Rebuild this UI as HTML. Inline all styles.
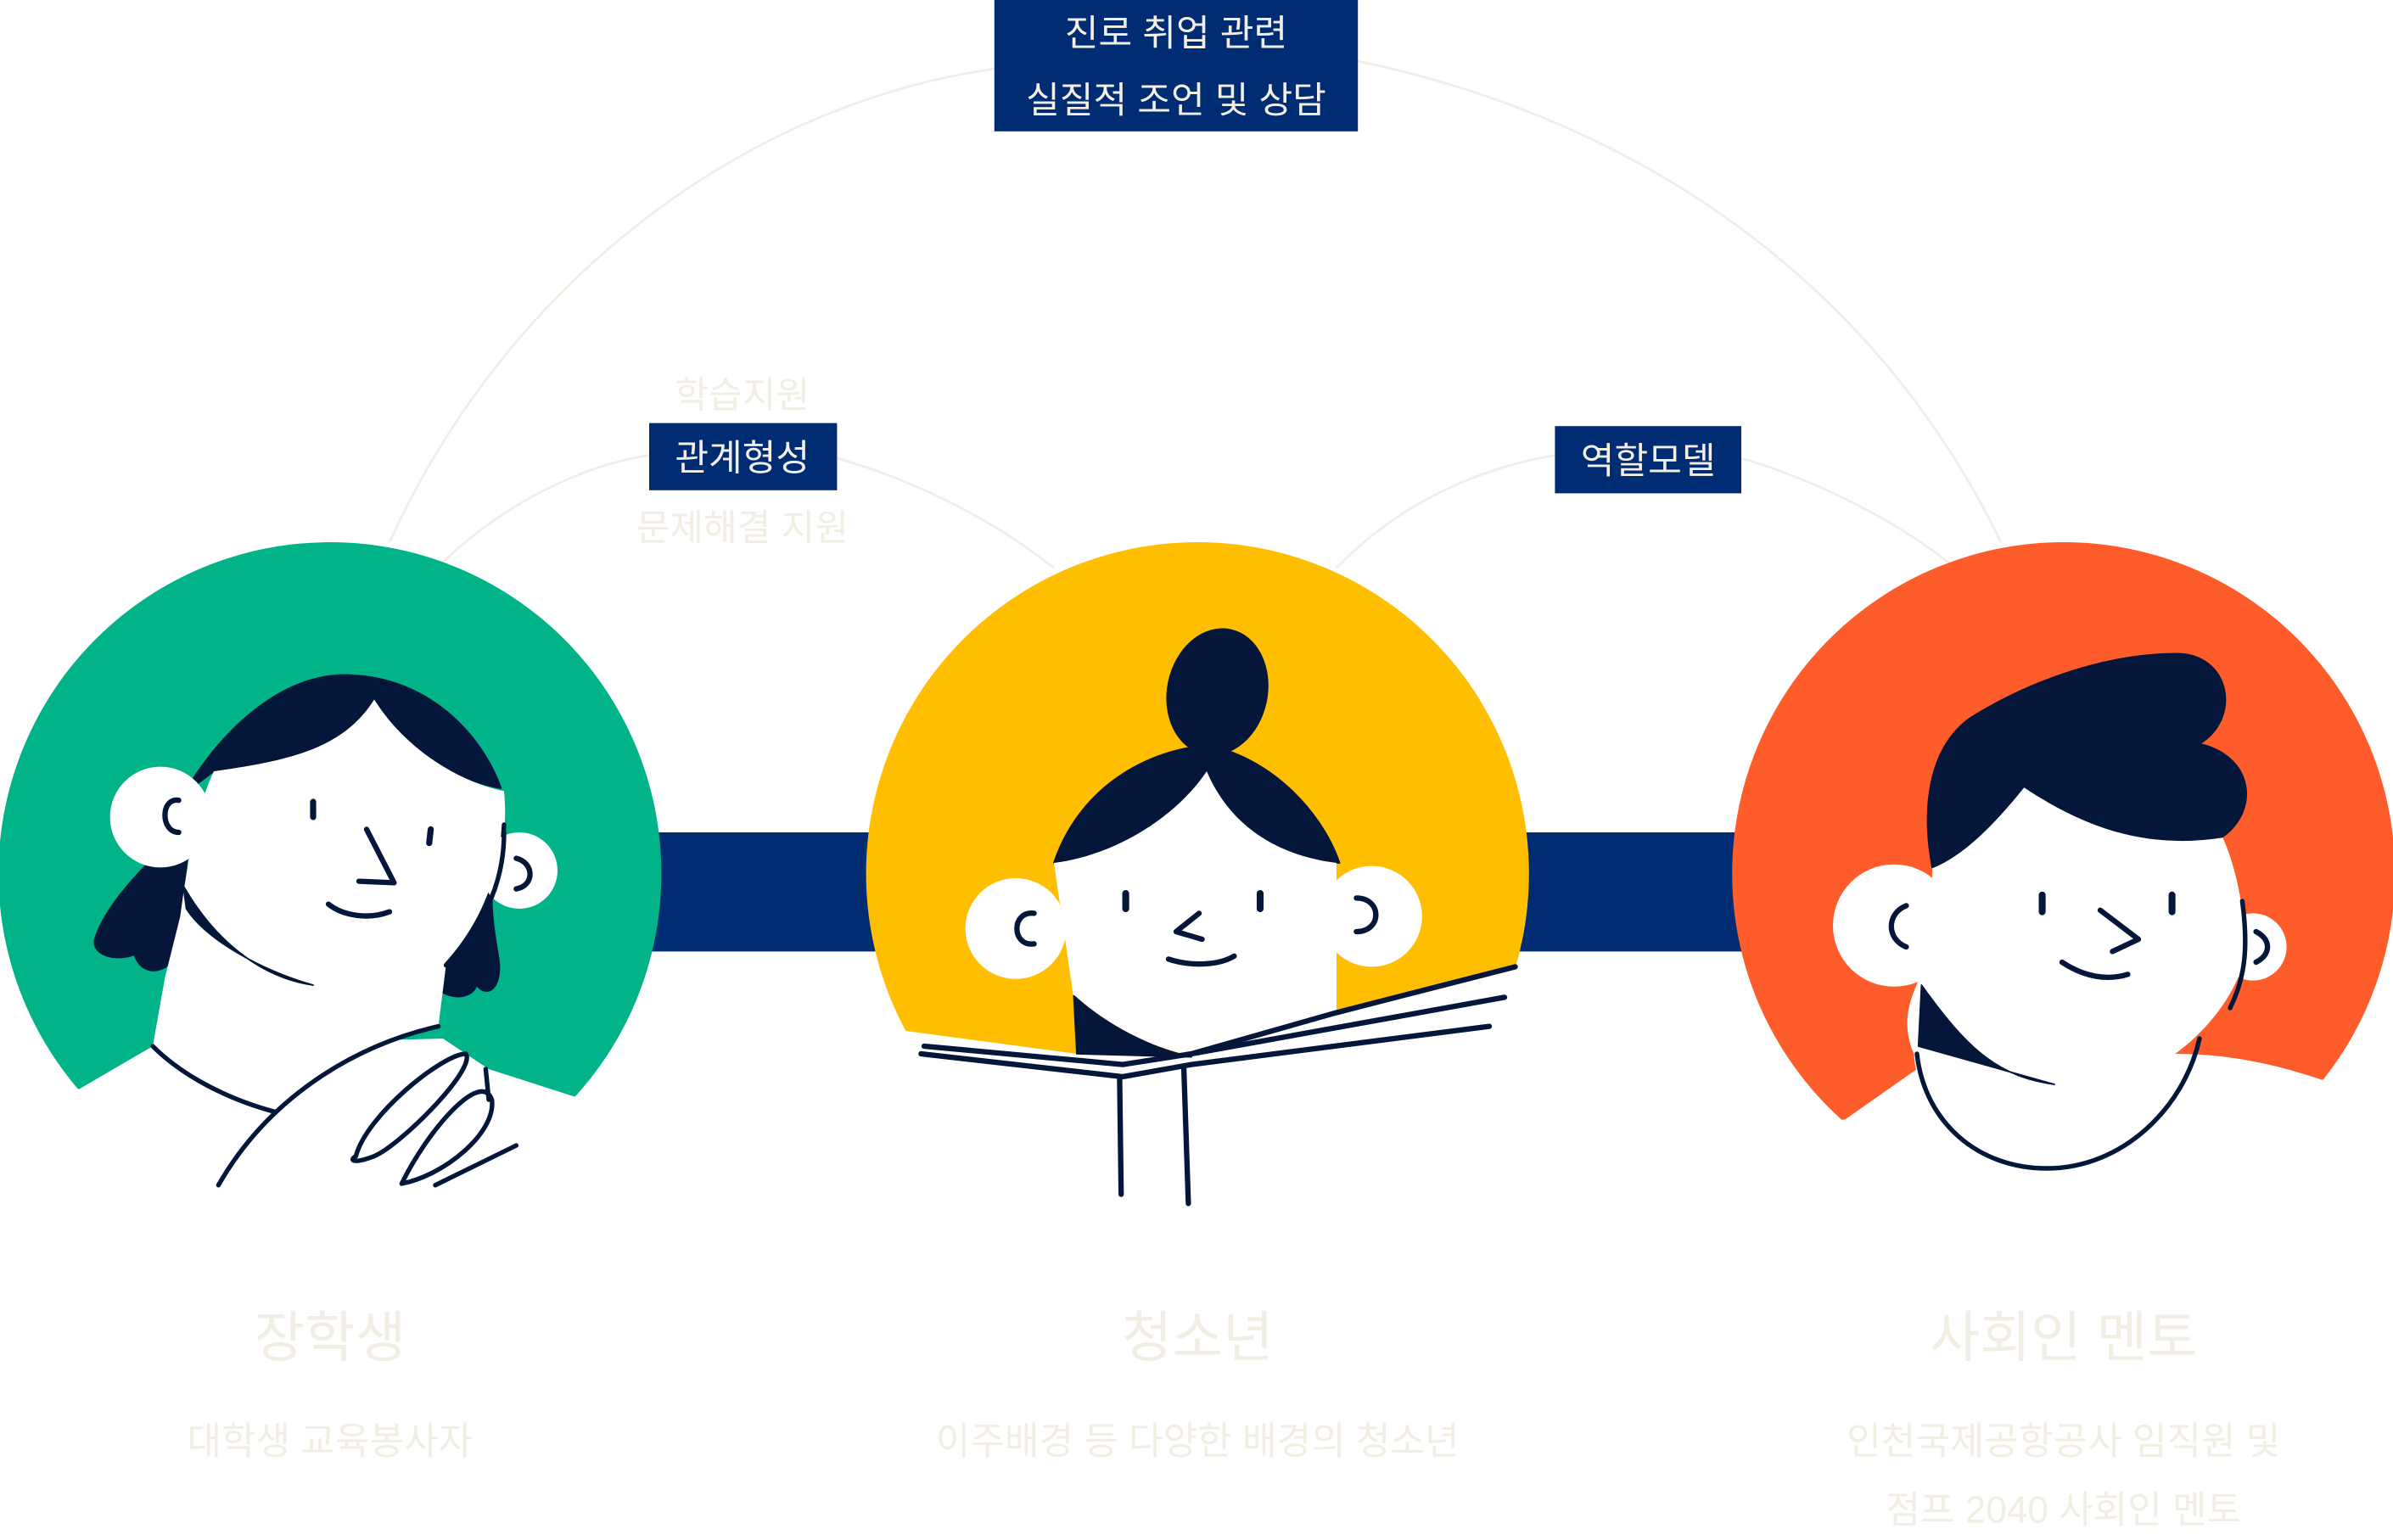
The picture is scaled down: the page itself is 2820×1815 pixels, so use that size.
<!DOCTYPE html>
<html><head><meta charset="utf-8"><style>
html,body{margin:0;padding:0;background:#fff;}
svg{display:block;}
text{font-family:"Liberation Sans","Noto Sans CJK KR",sans-serif;}
</style></head><body>
<svg width="2820" height="1815" viewBox="0 0 1566.67 1008.33" xmlns="http://www.w3.org/2000/svg">
<defs>
<clipPath id="cg"><path d="M0,713 L52,713 L100,685 L290,680 L320,700 L376,718 L440,718 V0 H0 Z"/></clipPath>
<clipPath id="cy"><path d="M560,680 L593,675 L705,690 L780,690 L875,665 L992,632 L1010,632 V0 H560 Z"/></clipPath>
<clipPath id="co"><path d="M1130,740 L1208,733 L1255,700 L1424,690 C1460,690 1490,697 1520,707 L1580,707 V0 H1130 Z"/></clipPath>
</defs>
<g fill="none" stroke="#f1eee6" stroke-width="1.5">
<path d="M255,355 C330,190 480,70 651,45"/>
<path d="M889,40 C1080,80 1230,190 1310,355"/>
<path d="M290,368 C330,330 380,305 425,298"/>
<path d="M548,300 C600,315 650,340 690,372"/>
<path d="M875,372 C910,335 960,308 1018,298"/>
<path d="M1140,300 C1190,315 1240,340 1278,370"/>
</g>
<rect x="425" y="545" width="150" height="78" fill="#002c73"/>
<rect x="995" y="545" width="150" height="78" fill="#002c73"/>
<circle cx="216" cy="572" r="217" fill="#00b388" clip-path="url(#cg)"/>
<circle cx="784" cy="572" r="217" fill="#ffbf00" clip-path="url(#cy)"/>
<circle cx="1351" cy="572" r="217" fill="#ff5c2b" clip-path="url(#co)"/>

<g fill="#041639" stroke="#041639" stroke-linecap="round" stroke-linejoin="round">
<path d="M125,540 C100,560 70,590 62,615 C60,625 75,630 88,625 C92,638 105,638 112,630 L118,605 Z"/>
<path d="M120,580 C140,615 170,640 205,645 L112,640 Z"/>
<path d="M330,540 C328,580 312,610 292,632 L290,650 C300,655 310,652 312,645 C320,655 330,645 326,625 C322,600 318,580 330,540 Z"/>
<path d="M120,520 C150,470 190,440 230,442 C280,444 315,480 328,516 C300,512 265,490 245,458 C225,490 190,498 140,505 Z"/>
<path fill="#fff" stroke="none" d="M140,505 C190,498 225,490 245,458 C265,490 300,512 330,518 C334,560 320,605 292,632 L287,672 C250,682 205,700 180,725 C140,712 112,700 100,685 L108,640 L118,600 C122,570 128,530 140,505 Z"/>
<path d="M120,580 C140,615 170,640 205,645 C170,635 135,615 122,595 Z"/>
<path fill="none" stroke-width="3" d="M330,540 C328,580 312,610 292,632"/>
<circle cx="105" cy="535" r="33" fill="#fff" stroke="none"/>
<circle cx="340" cy="570" r="25" fill="#fff" stroke="none"/>
<path fill="none" stroke-width="3" d="M330,545 C330,575 320,600 295,630"/>
<path fill="none" stroke-width="3.5" d="M117,524 C105,522 105,545 117,545"/>
<path fill="none" stroke-width="3.5" d="M338,562 C350,565 350,580 338,582"/>
<path fill="none" stroke-width="4" d="M205,525 L205,535 M282,543 L281,552"/>
<path fill="none" stroke-width="3.5" d="M240,543 L258,578 L235,577"/>
<path fill="none" stroke-width="3.5" d="M215,592 C225,600 242,602 255,597"/>
<path fill="none" stroke-width="3" d="M100,685 C120,705 150,720 180,728"/>
<path fill="none" stroke-width="3" d="M143,776 C175,720 230,685 287,672"/>
<path fill="none" stroke-width="3" d="M233,757 C240,730 290,690 305,690 C312,700 262,750 245,757 C232,762 228,760 233,757 Z"/>
<path fill="none" stroke-width="3" d="M263,775 C280,740 315,700 322,720 C325,742 290,770 263,775 Z"/>
<path fill="none" stroke-width="3" d="M285,776 L338,750 M318,700 L320,720"/>

<ellipse cx="797" cy="453" rx="33" ry="42" transform="rotate(12 797 453)" stroke="none"/>
<path d="M690,565 C705,520 745,492 790,488 C830,495 865,530 877,565 Z"/>
<path fill="#fff" stroke="none" d="M690,565 C730,560 770,535 790,505 C805,540 835,560 875,565 L875,665 L780,692 L705,668 Z"/>
<path d="M703,652 C725,672 755,687 780,692 L705,690 Z"/>
<circle cx="665" cy="608" r="33" fill="#fff" stroke="none"/>
<circle cx="898" cy="600" r="33" fill="#fff" stroke="none"/>
<path fill="none" stroke-width="3.5" d="M677,598 C662,596 662,620 677,618"/>
<path fill="none" stroke-width="3.5" d="M888,588 C905,588 905,610 888,610"/>
<path fill="none" stroke-width="4.5" d="M737,585 L737,595 M825,585 L825,595"/>
<path fill="none" stroke-width="3.5" d="M785,598 L770,610 L787,615"/>
<path fill="none" stroke-width="3.5" d="M765,628 C780,633 798,632 808,626"/>
<path fill="none" stroke-width="3.5" d="M603,690 L735,705 L780,697 L975,672"/>
<path fill="none" stroke-width="3.5" d="M605,685 L735,697 L780,690 L985,653"/>
<path fill="none" stroke-width="3.5" d="M780,690 L875,663 L992,633"/>
<path fill="none" stroke-width="3.5" d="M733,705 L734,782 M775,698 L778,788"/>

<path fill="#fff" stroke="none" d="M1265,568 C1300,540 1320,520 1325,515 C1370,545 1410,555 1455,548 C1465,570 1470,600 1470,625 C1465,650 1445,675 1424,690 C1420,720 1390,765 1340,765 C1285,765 1255,725 1253,690 C1240,660 1260,640 1265,620 Z"/>
<path fill="none" stroke-width="3" d="M1255,690 C1260,735 1295,765 1340,765 C1390,765 1430,725 1440,680"/>
<path d="M1265,568 C1258,530 1262,490 1290,470 C1330,445 1380,428 1425,428 C1460,428 1468,470 1440,487 C1475,495 1480,530 1455,548 C1410,555 1370,545 1325,515 C1305,540 1285,560 1265,568 Z"/>
<path d="M1258,645 C1290,690 1310,705 1345,710 L1256,685 Z"/>
<circle cx="1240" cy="606" r="40" fill="#fff" stroke="none"/>
<circle cx="1475" cy="620" r="22" fill="#fff" stroke="none"/>
<path fill="none" stroke-width="3" d="M1468,590 C1472,620 1470,640 1460,660"/>
<path fill="none" stroke-width="3.5" d="M1248,593 C1235,598 1235,615 1248,620"/>
<path fill="none" stroke-width="3.5" d="M1477,610 C1487,615 1487,625 1477,630"/>
<path fill="none" stroke-width="4.5" d="M1337,586 L1337,597 M1422,586 L1422,597"/>
<path fill="none" stroke-width="3.5" d="M1375,596 L1400,615 L1383,623"/>
<path fill="none" stroke-width="3.5" d="M1350,630 C1365,640 1380,642 1393,638"/>
</g>

<rect x="651" y="0" width="238" height="86" fill="#002c73"/>
<text x="770" y="30" font-size="24" fill="#f3efe6" text-anchor="middle">진로 취업 관련</text>
<text x="770" y="74" font-size="24" fill="#f3efe6" text-anchor="middle">실질적 조언 및 상담</text>
<rect x="425" y="277" width="123" height="44" fill="#002c73"/>
<text x="486" y="308" font-size="24" fill="#f3efe6" text-anchor="middle">관계형성</text>
<rect x="1018" y="279" width="122" height="44" fill="#002c73"/>
<text x="1079" y="310" font-size="24" fill="#f3efe6" text-anchor="middle">역할모델</text>
<g fill="#f3eee4" text-anchor="middle">
<text x="486" y="267" font-size="24">학습지원</text>
<text x="486" y="354" font-size="24">문제해결 지원</text>
<text x="216" y="888" font-size="36">장학생</text>
<text x="784" y="888" font-size="36">청소년</text>
<text x="1351" y="888" font-size="36">사회인 멘토</text>
<text x="216" y="952" font-size="24.5">대학생 교육봉사자</text>
<text x="784" y="952" font-size="24.5">이주배경 등 다양한 배경의 청소년</text>
<text x="1351" y="952" font-size="24.5">인천국제공항공사 임직원 및</text>
<text x="1351" y="997" font-size="24.5">점프 2040 사회인 멘토</text>
</g>
</svg>
</body></html>
